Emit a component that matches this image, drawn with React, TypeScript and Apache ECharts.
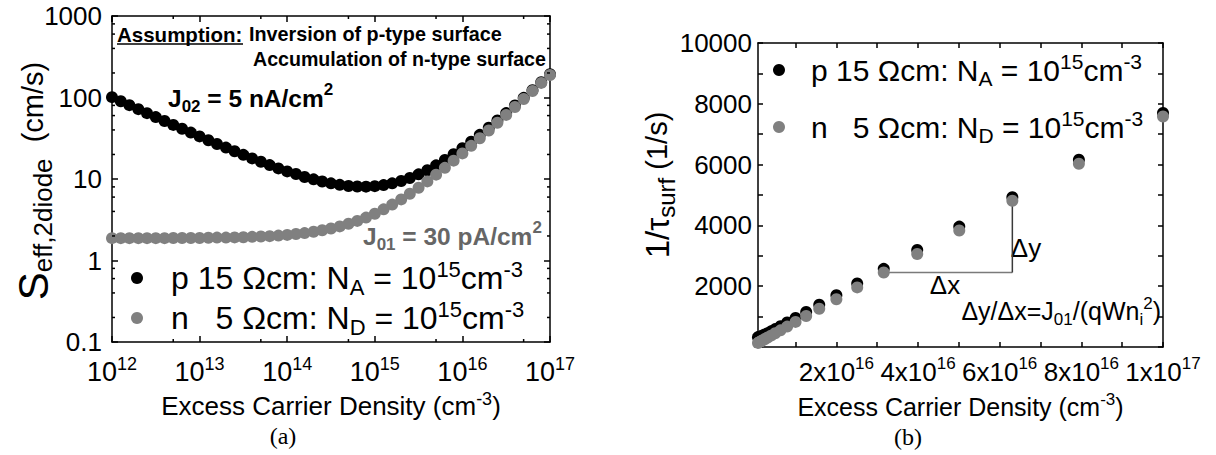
import React, { useEffect, useRef } from "react";
import * as echarts from "echarts";

// Excess carrier density grid (cm^-3), ten points per decade
const excessDensity = [
  1e12, 1.26e12, 1.58e12, 2e12, 2.51e12, 3.16e12, 3.98e12, 5.01e12, 6.31e12, 7.94e12,
  1e13, 1.26e13, 1.58e13, 2e13, 2.51e13, 3.16e13, 3.98e13, 5.01e13, 6.31e13, 7.94e13,
  1e14, 1.26e14, 1.58e14, 2e14, 2.51e14, 3.16e14, 3.98e14, 5.01e14, 6.31e14, 7.94e14,
  1e15, 1.26e15, 1.58e15, 2e15, 2.51e15, 3.16e15, 3.98e15, 5.01e15, 6.31e15, 7.94e15,
  1e16, 1.26e16, 1.58e16, 2e16, 2.51e16, 3.16e16, 3.98e16, 5.01e16, 6.31e16, 7.94e16,
  1e17,
];

// (a) effective surface recombination velocity S_eff,2diode (cm/s)
const sEffP = [
  101, 90.0, 80.5, 71.9, 64.3, 57.5, 51.5, 46.1, 41.4, 37.1,
  33.3, 29.9, 26.9, 24.3, 21.9, 19.8, 17.9, 16.3, 14.8, 13.5,
  12.4, 11.5, 10.6, 9.9, 9.3, 8.84, 8.48, 8.22, 8.08, 8.06,
  8.17, 8.42, 8.84, 9.44, 10.3, 11.4, 12.8, 14.7, 17.1, 20.1,
  23.9, 28.7, 34.8, 42.5, 52.2, 64.4, 79.7, 99.0, 123, 154,
  193,
];
const sEffN = [
  1.88, 1.88, 1.88, 1.88, 1.88, 1.88, 1.88, 1.89, 1.89, 1.89,
  1.89, 1.90, 1.91, 1.91, 1.92, 1.93, 1.95, 1.97, 1.99, 2.02,
  2.06, 2.11, 2.17, 2.25, 2.35, 2.47, 2.62, 2.82, 3.06, 3.36,
  3.75, 4.24, 4.85, 5.62, 6.59, 7.80, 9.34, 11.3, 13.7, 16.8,
  20.6, 25.5, 31.6, 39.3, 49.0, 61.2, 76.5, 95.9, 120, 151,
  189,
];

// (b) inverse surface lifetime 1/tau_surf (1/s)
const invTauP = [
  4030, 3600, 3220, 2880, 2570, 2300, 2060, 1840, 1660, 1480,
  1330, 1200, 1080, 972, 876, 792, 716, 652, 592, 540,
  496, 458, 424, 396, 373, 354, 339, 329, 323, 322,
  327, 337, 354, 378, 411, 456, 514, 588, 683, 804,
  956, 1150, 1390, 1700, 2090, 2570, 3190, 3960, 4930, 6160,
  7700,
];
const invTauN = [
  75, 75, 75, 75, 75, 75, 75, 75, 76, 76,
  76, 76, 76, 77, 77, 77, 78, 79, 80, 81,
  83, 84, 87, 90, 94, 99, 105, 113, 122, 135,
  150, 169, 194, 225, 263, 312, 374, 451, 548, 671,
  825, 1020, 1260, 1570, 1960, 2450, 3060, 3830, 4810, 6030,
  7580,
];

// slope triangle drawn between these two n-type points
const slopeFrom = 45;
const slopeTo = 48;

// tick positions
const logXMinorTicks = [5e12, 5e13, 5e14, 5e15, 5e16];
const logYMinorTicks = [0.2, 0.4, 0.6, 0.8, 2, 4, 6, 8, 20, 40, 60, 80, 200, 400, 600, 800];
const linXTicks = [1e16, 2e16, 3e16, 4e16, 5e16, 6e16, 7e16, 8e16, 9e16, 1e17];
const linXLabels = [2e16, 4e16, 6e16, 8e16, 1e17];

const FONT = "'Liberation Sans', Arial, Helvetica, sans-serif";
const SERIF = "'Liberation Serif', 'DejaVu Serif', serif";
const BLACK = "#000000";
const GRAY = "#808080";

const GRID_A = { left: 112, top: 16, width: 438, height: 326 };
const GRID_B = { left: 758, top: 43, width: 405, height: 304 };

const frameLine = { show: true, onZero: false, lineStyle: { color: BLACK, width: 1.5 } };
const innerTick = (len: number) => ({
  show: true,
  inside: true,
  length: len,
  lineStyle: { color: BLACK, width: 1.5 },
});

const tickRich = (size: number, supSize: number, raise: number) => ({
  b: { fontSize: size, fontFamily: FONT, color: BLACK },
  s: { fontSize: supSize, fontFamily: FONT, color: BLACK, padding: [0, 0, raise, 0] },
});

const titleRich = (size: number) => ({
  t: { fontSize: size, fontFamily: FONT, color: BLACK },
  s: { fontSize: Math.round(size * 0.68), fontFamily: FONT, color: BLACK, padding: [0, 0, 14, 0] },
});

const legendRich = (size: number, small: number, shift: number) => ({
  t: { fontSize: size, fontFamily: FONT, color: BLACK },
  sub: { fontSize: small, fontFamily: FONT, color: BLACK, padding: [shift, 0, 0, 0] },
  sup: { fontSize: small, fontFamily: FONT, color: BLACK, padding: [0, 0, shift, 0] },
});

const legendText: Record<string, string> = {
  p: "{t|p 15 Ωcm: N}{sub|A}{t| = 10}{sup|15}{t|cm}{sup|-3}",
  n: "{t|n\u00a0\u00a0\u00a05 Ωcm: N}{sub|D}{t| = 10}{sup|15}{t|cm}{sup|-3}",
};

function makeLegend(name: string, left: number, top: number, rich: any, gap: number) {
  return {
    data: [name],
    left,
    top,
    orient: "vertical",
    icon: "circle",
    itemWidth: 12,
    itemHeight: 12,
    padding: 0,
    itemGap: 0,
    selectedMode: false,
    formatter: (n: string) => legendText[n],
    textStyle: { rich, padding: [0, 0, 0, gap] },
  };
}

// short inward ticks on opposite sides of a grid, placed through the axis scales
function minorTicks(
  axisIndex: number,
  dir: "x" | "y",
  values: number[],
  fixed: number,
  len: number
) {
  return {
    type: "custom",
    xAxisIndex: axisIndex,
    yAxisIndex: axisIndex,
    silent: true,
    clip: false,
    z: 5,
    data: values.map((v) => (dir === "x" ? [v, fixed] : [fixed, v])),
    renderItem: (params: any, api: any) => {
      const cs = params.coordSys;
      const p = api.coord([api.value(0), api.value(1)]);
      const style = { stroke: BLACK, lineWidth: 1.5 };
      if (dir === "x") {
        const x = p[0];
        return {
          type: "group",
          children: [
            { type: "line", shape: { x1: x, y1: cs.y + cs.height, x2: x, y2: cs.y + cs.height - len }, style },
            { type: "line", shape: { x1: x, y1: cs.y, x2: x, y2: cs.y + len }, style },
          ],
        };
      }
      const y = p[1];
      return {
        type: "group",
        children: [
          { type: "line", shape: { x1: cs.x, y1: y, x2: cs.x + len, y2: y }, style },
          { type: "line", shape: { x1: cs.x + cs.width, y1: y, x2: cs.x + cs.width - len, y2: y }, style },
        ],
      };
    },
  };
}

function dots(name: string, axisIndex: number, color: string, ys: number[]) {
  return {
    name,
    type: "scatter",
    xAxisIndex: axisIndex,
    yAxisIndex: axisIndex,
    symbol: "circle",
    symbolSize: 12,
    clip: true,
    itemStyle: { color, opacity: 1 },
    data: excessDensity.map((x, i) => [x, ys[i]]),
  };
}

function buildOption() {
  const xs = excessDensity;
  const corner = [xs[slopeTo], invTauN[slopeFrom]];
  const legendA = legendRich(32, 22, 18);
  const legendB = legendRich(30, 21, 17);

  return {
    animation: false,
    backgroundColor: "#ffffff",
    grid: [
      { ...GRID_A, containLabel: false },
      { ...GRID_B, containLabel: false },
    ],
    xAxis: [
      {
        type: "log",
        logBase: 10,
        gridIndex: 0,
        min: 1e12,
        max: 1e17,
        position: "bottom",
        axisLine: frameLine,
        axisTick: innerTick(6),
        splitLine: { show: false },
        axisLabel: {
          margin: 13,
          showMinLabel: true,
          showMaxLabel: true,
          formatter: (v: number) => `{b|10}{s|${Math.round(Math.log10(v))}}`,
          rich: tickRich(27, 18, 16),
        },
        name: "{t|Excess Carrier Density (cm}{s|-3}{t|)}",
        nameLocation: "middle",
        nameGap: 44,
        nameTextStyle: { rich: titleRich(26) },
      },
      {
        type: "log",
        logBase: 10,
        gridIndex: 0,
        min: 1e12,
        max: 1e17,
        position: "top",
        axisLine: frameLine,
        axisTick: innerTick(6),
        axisLabel: { show: false },
        splitLine: { show: false },
      },
      {
        type: "value",
        gridIndex: 1,
        min: 8e14,
        max: 1e17,
        position: "bottom",
        axisLine: frameLine,
        axisTick: { ...innerTick(5), customValues: linXTicks },
        splitLine: { show: false },
        axisLabel: {
          margin: 8,
          customValues: linXLabels,
          formatter: (v: number) => {
            const e = Math.floor(Math.log10(v) + 1e-9);
            const m = Math.round(v / Math.pow(10, e));
            return `{b|${m}x10}{s|${e}}`;
          },
          rich: tickRich(26, 17, 16),
        },
        name: "{t|Excess Carrier Density (cm}{s|-3}{t|)}",
        nameLocation: "middle",
        nameGap: 44,
        nameTextStyle: { rich: titleRich(25) },
      },
      {
        type: "value",
        gridIndex: 1,
        min: 8e14,
        max: 1e17,
        position: "top",
        axisLine: frameLine,
        axisTick: { ...innerTick(5), customValues: linXTicks },
        axisLabel: { show: false },
        splitLine: { show: false },
      },
    ],
    yAxis: [
      {
        type: "log",
        logBase: 10,
        gridIndex: 0,
        min: 0.1,
        max: 1000,
        position: "left",
        axisLine: frameLine,
        axisTick: innerTick(6),
        splitLine: { show: false },
        axisLabel: {
          margin: 10,
          showMinLabel: true,
          showMaxLabel: true,
          fontSize: 26,
          lineHeight: 24,
          fontFamily: FONT,
          color: BLACK,
          formatter: (v: number) => (v < 1 ? "0.1" : String(Math.round(v))),
        },
      },
      {
        type: "log",
        logBase: 10,
        gridIndex: 0,
        min: 0.1,
        max: 1000,
        position: "right",
        axisLine: frameLine,
        axisTick: innerTick(6),
        axisLabel: { show: false },
        splitLine: { show: false },
      },
      {
        type: "value",
        gridIndex: 1,
        min: 0,
        max: 10000,
        interval: 1000,
        position: "left",
        axisLine: frameLine,
        axisTick: innerTick(5),
        splitLine: { show: false },
        axisLabel: {
          margin: 6,
          fontSize: 26,
          fontFamily: FONT,
          color: BLACK,
          formatter: (v: number) => (v > 0 && v % 2000 === 0 ? String(v) : ""),
        },
      },
      {
        type: "value",
        gridIndex: 1,
        min: 0,
        max: 10000,
        interval: 1000,
        position: "right",
        axisLine: frameLine,
        axisTick: innerTick(5),
        axisLabel: { show: false },
        splitLine: { show: false },
      },
    ],
    legend: [
      makeLegend("p", 131, 258, legendA, 23),
      makeLegend("n", 131, 298, legendA, 23),
      makeLegend("p", 773, 51, legendB, 21),
      makeLegend("n", 773, 108, legendB, 21),
    ],
    series: [
      dots("p", 0, BLACK, sEffP),
      dots("n", 0, GRAY, sEffN),
      {
        name: "slope-dx",
        type: "line",
        xAxisIndex: 2,
        yAxisIndex: 2,
        z: 1,
        symbol: "none",
        silent: true,
        lineStyle: { color: "#7a7a7a", width: 1.5 },
        data: [[xs[slopeFrom], invTauN[slopeFrom]], corner],
      },
      {
        name: "slope-dy",
        type: "line",
        xAxisIndex: 2,
        yAxisIndex: 2,
        z: 1,
        symbol: "none",
        silent: true,
        lineStyle: { color: "#3a3a3a", width: 1.5 },
        data: [corner, [xs[slopeTo], invTauN[slopeTo]]],
      },
      dots("p", 2, BLACK, invTauP),
      dots("n", 2, GRAY, invTauN),
      minorTicks(0, "x", logXMinorTicks, 1, 3),
      minorTicks(0, "y", logYMinorTicks, 1e12, 3),
    ],
    graphic: [
      // (a) y-axis title
      {
        type: "text",
        x: 33,
        y: 181,
        rotation: Math.PI / 2,
        style: {
          text: "{S|S}{sub|eff,2diode}{t|  (cm/s)}",
          align: "center",
          verticalAlign: "middle",
          rich: {
            S: { fontSize: 42, fontFamily: FONT, fill: BLACK },
            sub: { fontSize: 26, fontFamily: FONT, fill: BLACK, padding: [20, 0, 0, 0] },
            t: { fontSize: 29, fontFamily: FONT, fill: BLACK },
          },
        },
      },
      // (b) y-axis title
      {
        type: "text",
        x: 657,
        y: 185,
        rotation: Math.PI / 2,
        style: {
          text: "{t|1/τ}{sub|surf}{u| (1/s)}",
          align: "center",
          verticalAlign: "middle",
          rich: {
            t: { fontSize: 33, fontFamily: FONT, fill: BLACK },
            sub: { fontSize: 24, fontFamily: FONT, fill: BLACK, padding: [19, 0, 0, 0] },
            u: { fontSize: 29, fontFamily: FONT, fill: BLACK },
          },
        },
      },
      // (a) annotations
      {
        type: "text",
        x: 117,
        y: 34,
        style: {
          text: "Assumption:",
          fontSize: 20.5,
          fontWeight: "bold",
          fontFamily: FONT,
          fill: BLACK,
          verticalAlign: "middle",
        },
      },
      {
        type: "line",
        shape: { x1: 117, y1: 44, x2: 243, y2: 44 },
        style: { stroke: BLACK, lineWidth: 1.5 },
      },
      {
        type: "text",
        x: 249,
        y: 34,
        style: {
          text: "Inversion of p-type surface",
          fontSize: 19.8,
          fontWeight: "bold",
          fontFamily: FONT,
          fill: BLACK,
          verticalAlign: "middle",
        },
      },
      {
        type: "text",
        x: 253,
        y: 59,
        style: {
          text: "Accumulation of n-type surface",
          fontSize: 19.6,
          fontWeight: "bold",
          fontFamily: FONT,
          fill: BLACK,
          verticalAlign: "middle",
        },
      },
      {
        type: "text",
        x: 168,
        y: 98,
        style: {
          text: "{t|J}{sub|02}{t| = 5 nA/cm}{sup|2}",
          verticalAlign: "middle",
          rich: {
            t: { fontSize: 24.5, fontWeight: "bold", fontFamily: FONT, fill: BLACK },
            sub: { fontSize: 17, fontWeight: "bold", fontFamily: FONT, fill: BLACK, padding: [17, 0, 0, 0] },
            sup: { fontSize: 17, fontWeight: "bold", fontFamily: FONT, fill: BLACK, padding: [0, 0, 17, 0] },
          },
        },
      },
      {
        type: "text",
        x: 363,
        y: 236,
        style: {
          text: "{t|J}{sub|01}{t| = 30 pA/cm}{sup|2}",
          verticalAlign: "middle",
          rich: {
            t: { fontSize: 24.5, fontWeight: "bold", fontFamily: FONT, fill: "#666666" },
            sub: { fontSize: 17, fontWeight: "bold", fontFamily: FONT, fill: "#666666", padding: [17, 0, 0, 0] },
            sup: { fontSize: 17, fontWeight: "bold", fontFamily: FONT, fill: "#666666", padding: [0, 0, 17, 0] },
          },
        },
      },
      // (b) slope annotations
      {
        type: "text",
        x: 945,
        y: 285,
        style: { text: "Δx", fontSize: 26, fontFamily: FONT, fill: BLACK, align: "center", verticalAlign: "middle" },
      },
      {
        type: "text",
        x: 1026,
        y: 248,
        style: { text: "Δy", fontSize: 26, fontFamily: FONT, fill: BLACK, align: "center", verticalAlign: "middle" },
      },
      {
        type: "text",
        x: 1161,
        y: 311,
        style: {
          text: "{t|Δy/Δx=J}{sub|01}{t|/(qWn}{sub|i}{sup|2}{t|)}",
          align: "right",
          verticalAlign: "middle",
          rich: {
            t: { fontSize: 25, fontFamily: FONT, fill: BLACK },
            sub: { fontSize: 17, fontFamily: FONT, fill: BLACK, padding: [17, 0, 0, 0] },
            sup: { fontSize: 17, fontFamily: FONT, fill: BLACK, padding: [0, 0, 15, 0] },
          },
        },
      },
      // panel captions
      {
        type: "text",
        x: 283,
        y: 436,
        style: { text: "(a)", fontSize: 24, fontFamily: SERIF, fill: BLACK, align: "center", verticalAlign: "middle" },
      },
      {
        type: "text",
        x: 908,
        y: 437,
        style: { text: "(b)", fontSize: 24, fontFamily: SERIF, fill: BLACK, align: "center", verticalAlign: "middle" },
      },
    ],
  };
}

export default function App() {
  const ref = useRef<HTMLDivElement>(null);
  useEffect(() => {
    document.body.style.margin = "0";
    const chart = echarts.init(ref.current!, null, { renderer: "svg" });
    chart.setOption(buildOption() as any);
    return () => chart.dispose();
  }, []);
  return (
    <div
      ref={ref}
      style={{ position: "absolute", left: 0, top: 0, width: 1216, height: 455, background: "#fff" }}
    />
  );
}
